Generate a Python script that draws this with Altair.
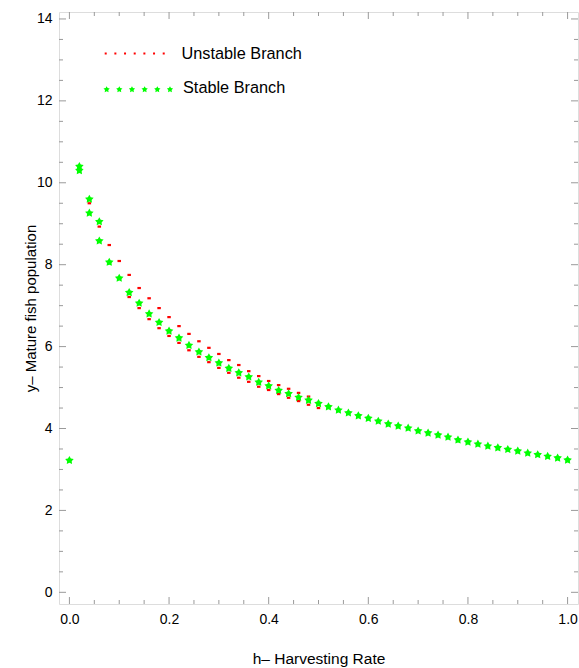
import math
import altair as alt
import pandas as pd

# ---------------- data ----------------
h_grid = [0.00, 0.02, 0.04, 0.06, 0.08, 0.10, 0.12, 0.14, 0.16, 0.18,
          0.20, 0.22, 0.24, 0.26, 0.28, 0.30, 0.32, 0.34, 0.36, 0.38,
          0.40, 0.42, 0.44, 0.46, 0.48, 0.50, 0.52, 0.54, 0.56, 0.58,
          0.60, 0.62, 0.64, 0.66, 0.68, 0.70, 0.72, 0.74, 0.76, 0.78,
          0.80, 0.82, 0.84, 0.86, 0.88, 0.90, 0.92, 0.94, 0.96, 0.98, 1.00]
stable_y = [3.22, 10.30, 9.26, 8.58, 8.06, 7.67, 7.32, 7.06, 6.80, 6.59,
            6.38, 6.21, 6.03, 5.87, 5.73, 5.60, 5.47, 5.36, 5.26, 5.13,
            5.04, 4.93, 4.85, 4.76, 4.69, 4.61, 4.53, 4.45, 4.38, 4.31,
            4.25, 4.18, 4.11, 4.06, 4.01, 3.94, 3.89, 3.84, 3.79, 3.72,
            3.67, 3.62, 3.57, 3.53, 3.49, 3.45, 3.40, 3.36, 3.32, 3.28, 3.23]
stable_extra_h = [0.02, 0.04, 0.06]
stable_extra_y = [10.40, 9.60, 9.05]

unstable_upper_h = [0.04, 0.06, 0.08, 0.10, 0.12, 0.14, 0.16, 0.18, 0.20, 0.22,
                    0.24, 0.26, 0.28, 0.30, 0.32, 0.34, 0.36, 0.38, 0.40, 0.42,
                    0.44, 0.46, 0.48]
unstable_upper_y = [9.50, 8.93, 8.48, 8.09, 7.75, 7.43, 7.18, 6.94, 6.72, 6.50,
                    6.31, 6.13, 5.97, 5.82, 5.67, 5.55, 5.40, 5.28, 5.16, 5.06,
                    4.97, 4.87, 4.78]
unstable_lower_h = [0.12, 0.14, 0.16, 0.18, 0.20, 0.22, 0.24, 0.26, 0.28, 0.30,
                    0.32, 0.34, 0.36, 0.38, 0.40, 0.42, 0.44, 0.46, 0.48, 0.50]
unstable_lower_y = [7.21, 6.94, 6.67, 6.45, 6.26, 6.09, 5.91, 5.75, 5.62, 5.48,
                    5.36, 5.24, 5.14, 5.02, 4.94, 4.84, 4.75, 4.67, 4.58, 4.50]

x_major = [0.0, 0.2, 0.4, 0.6, 0.8, 1.0]
x_minor = [0.05, 0.1, 0.15, 0.25, 0.3, 0.35, 0.45, 0.5, 0.55,
           0.65, 0.7, 0.75, 0.85, 0.9, 0.95]
y_major = [0, 2, 4, 6, 8, 10, 12, 14]
y_minor = [0.5, 1, 1.5, 2.5, 3, 3.5, 4.5, 5, 5.5, 6.5, 7, 7.5, 8.5, 9, 9.5,
           10.5, 11, 11.5, 12.5, 13, 13.5]

legend_labels = ["Unstable Branch", "Stable Branch"]
x_title = "h\u2013 Harvesting Rate"
y_title = "y\u2013 Mature fish population"

# ---------------- styling ----------------
W, H = 519, 592
FONT = "Liberation Sans"
GRAY = "#9a9a9a"
RED = "#ff0000"
GREEN = "#00ff00"


def star_path(R, r, cx=0.0, cy=0.0):
    pts = []
    for k in range(10):
        ang = math.radians(-90 + 36 * k)
        rad = R if k % 2 == 0 else r
        pts.append((cx + rad * math.cos(ang), cy + rad * math.sin(ang)))
    return "M" + "L".join(f"{x:.2f},{y:.2f}" for x, y in pts) + "Z"


def square_path(w, h, cx=0.0):
    return f"M{cx - w / 2:.2f},{-h / 2:.2f}h{w:.2f}v{h:.2f}h{-w:.2f}Z"


STAR = star_path(4.5, 2.4)
DASH = square_path(3.5, 2.2)
LEG_DOTS = " ".join(square_path(2.0, 2.0, -29 + 9.67 * k) for k in range(7))
LEG_STARS = " ".join(star_path(3.3, 1.7, -31.67 + 12.67 * k) for k in range(6))

xs = alt.Scale(domain=[-0.0209, 1.0209], nice=False, zero=False)
ys = alt.Scale(domain=[-0.285, 14.17], nice=False, zero=False)

stable_df = pd.DataFrame({"h": h_grid + stable_extra_h, "y": stable_y + stable_extra_y})
unstable_df = pd.DataFrame({"h": unstable_upper_h + unstable_lower_h,
                            "y": unstable_upper_y + unstable_lower_y})

x_axis = alt.Axis(values=x_major, format=".1f", ticks=False, domain=False, grid=False,
                  labelPadding=8, labelFontSize=14, labelColor="black", labelFont=FONT,
                  title=x_title, titleFontSize=15.5, titleFontWeight="normal", titleFont=FONT,
                  titleColor="black", titleX=W / 2, titleY=54, titleBaseline="middle")
y_axis = alt.Axis(values=y_major, format="d", ticks=False, domain=False, grid=False,
                  labelPadding=7, labelFontSize=14, labelColor="black", labelFont=FONT,
                  title=y_title, titleFontSize=15, titleFontWeight="normal", titleFont=FONT,
                  titleColor="black", titleX=-29, titleY=H / 2, titleAngle=270,
                  titleBaseline="middle", titleAlign="center")

X = lambda f: alt.X(f, scale=xs, axis=x_axis)
Y = lambda f: alt.Y(f, scale=ys, axis=y_axis)

unstable = alt.Chart(unstable_df).mark_point(
    shape=DASH, filled=True, size=4, color=RED, opacity=1
).encode(x=X("h:Q"), y=Y("y:Q"))

stable = alt.Chart(stable_df).mark_point(
    shape=STAR, filled=True, size=4, color=GREEN, opacity=1
).encode(x=X("h:Q"), y=Y("y:Q"))


def xticks(vals, y0, y1):
    return alt.Chart(pd.DataFrame({"v": vals})).mark_rule(color=GRAY, strokeWidth=1).encode(
        x=X("v:Q"), y=alt.value(y0), y2=alt.value(y1))


def yticks(vals, x0, x1):
    return alt.Chart(pd.DataFrame({"v": vals})).mark_rule(color=GRAY, strokeWidth=1).encode(
        y=Y("v:Q"), x=alt.value(x0), x2=alt.value(x1))


ticks = [
    xticks(x_major, H, H - 7), xticks(x_minor, H, H - 4),
    xticks(x_major, 0, 7), xticks(x_minor, 0, 4),
    yticks(y_major, 0, 7), yticks(y_minor, 0, 4),
    yticks(y_major, W, W - 7), yticks(y_minor, W, W - 4),
]

leg1_sym = alt.Chart(pd.DataFrame({"t": [legend_labels[0]]})).mark_point(
    shape=LEG_DOTS, filled=True, size=4, color=RED, opacity=1
).encode(x=alt.value(75.7), y=alt.value(41.5))
leg2_sym = alt.Chart(pd.DataFrame({"t": [legend_labels[1]]})).mark_point(
    shape=LEG_STARS, filled=True, size=4, color=GREEN, opacity=1
).encode(x=alt.value(79.3), y=alt.value(77.5))
leg1_txt = alt.Chart(pd.DataFrame({"t": [legend_labels[0]]})).mark_text(
    align="left", baseline="middle", fontSize=16.3, font=FONT, color="black"
).encode(x=alt.value(122.5), y=alt.value(41.5), text="t:N")
leg2_txt = alt.Chart(pd.DataFrame({"t": [legend_labels[1]]})).mark_text(
    align="left", baseline="middle", fontSize=16.3, font=FONT, color="black"
).encode(x=alt.value(124), y=alt.value(76), text="t:N")

chart = alt.layer(
    unstable, stable, *ticks, leg1_sym, leg2_sym, leg1_txt, leg2_txt
).properties(
    width=W, height=H,
    padding={"left": 59, "top": 12, "right": 1, "bottom": 64},
    autosize=alt.AutoSizeParams(type="none"),
    background="white",
).configure_view(stroke=GRAY, strokeWidth=1).configure(font=FONT)

chart.save("out.html", embed_options={"renderer": "svg", "actions": False})
